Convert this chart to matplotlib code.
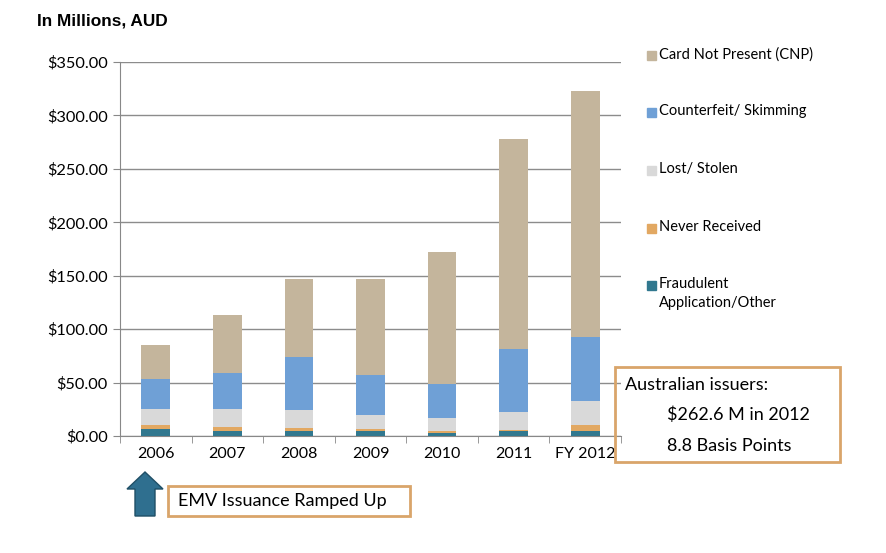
import matplotlib.pyplot as plt
import matplotlib.patches as mpatches
import numpy as np

# Datos (millones AUD)
anios = ['2006', '2007', '2008', '2009', '2010', '2011', 'FY 2012']
series = ['Fraudulent\nApplication/Other', 'Never Received', 'Lost/ Stolen',
          'Counterfeit/ Skimming', 'Card Not Present (CNP)']
fraude = [6.3, 5.0, 4.4, 4.4, 2.5, 4.4, 4.4]
no_recibida = [3.7, 3.7, 3.1, 2.5, 1.9, 1.2, 5.6]
perdida = [15.0, 16.8, 16.8, 13.1, 12.4, 16.9, 23.0]
falsificada = [28.0, 33.2, 49.3, 37.4, 31.9, 58.5, 60.0]
cnp = [31.9, 54.3, 73.0, 89.2, 123.3, 197.0, 230.0]
colores = ['#31788F', '#E2A862', '#D9D9D9', '#6FA0D6', '#C4B59C']
yticks = [0, 50, 100, 150, 200, 250, 300, 350]

plt.rcParams['font.family'] = ['Lato', 'DejaVu Sans']

fig = plt.figure(figsize=(8.86, 5.53), dpi=100)
ax = fig.add_axes([120 / 886, 117 / 553, 501 / 886, 374 / 553])

x = np.arange(len(anios))
base = np.zeros(len(anios))
for valores, color in zip([fraude, no_recibida, perdida, falsificada, cnp], colores):
    ax.bar(x, valores, width=0.4, bottom=base, color=color, zorder=3)
    base += np.array(valores)

ax.set_xlim(-0.5, len(anios) - 0.5)
ax.set_ylim(0, 350)
ax.set_yticks(yticks)
ax.set_yticklabels([f'${v:.2f}' for v in yticks], fontsize=11.8)
ax.set_xticks(x)
ax.set_xticklabels(anios, fontsize=11.5)
ax.set_xticks(np.arange(-0.5, len(anios)), minor=True)
ax.tick_params(axis='x', which='major', length=0, pad=8)
ax.tick_params(axis='x', which='minor', length=5, color='#888888')
ax.tick_params(axis='y', length=5, color='#888888', pad=4)
ax.grid(axis='y', color='#8C8C8C', linewidth=1, zorder=0)
for lado in ['top', 'right']:
    ax.spines[lado].set_visible(False)
ax.spines['left'].set_color('#888888')
ax.spines['bottom'].set_color('#888888')

fig.text(37 / 886, 1 - 21 / 553, 'In Millions, AUD', fontsize=12.4, fontweight='bold',
         family='Liberation Sans', va='center')

# Leyenda manual (de arriba hacia abajo)
y_leyenda = [55, 112, 170, 228, 285]
for nombre, color, yl in zip(series[::-1], colores[::-1], y_leyenda):
    fig.patches.append(mpatches.Rectangle((647 / 886, 1 - (yl + 5) / 553), 9 / 886, 9 / 553,
                                          transform=fig.transFigure, color=color))
    fig.text(659 / 886, 1 - (yl - 8) / 553, nombre, fontsize=10.5, va='top', linespacing=1.5)

# Recuadro de resumen
fig.patches.append(mpatches.Rectangle((615 / 886, 1 - 462 / 553), 225 / 886, 95 / 553,
                                      transform=fig.transFigure, fill=False,
                                      edgecolor='#D9A56A', linewidth=2))
fig.text(625 / 886, 1 - 385 / 553, 'Australian issuers:', fontsize=13, va='center')
fig.text(667 / 886, 1 - 415 / 553, '$262.6 M in 2012', fontsize=13, va='center')
fig.text(667 / 886, 1 - 446 / 553, '8.8 Basis Points', fontsize=13, va='center')

# Flecha y recuadro EMV
fig.patches.append(mpatches.FancyArrow(145 / 886, 1 - 516 / 553, 0, 44 / 553, width=20 / 886,
                                       head_width=36 / 886, head_length=17 / 553,
                                       length_includes_head=True, transform=fig.transFigure,
                                       facecolor='#2F6F8F', edgecolor='#1F4F66', linewidth=1))
fig.patches.append(mpatches.Rectangle((168 / 886, 1 - 516 / 553), 242 / 886, 30 / 553,
                                      transform=fig.transFigure, fill=False,
                                      edgecolor='#D9A56A', linewidth=2))
fig.text(178 / 886, 1 - 501 / 553, 'EMV Issuance Ramped Up', fontsize=13, va='center')

fig.savefig('out.png', dpi=100)
